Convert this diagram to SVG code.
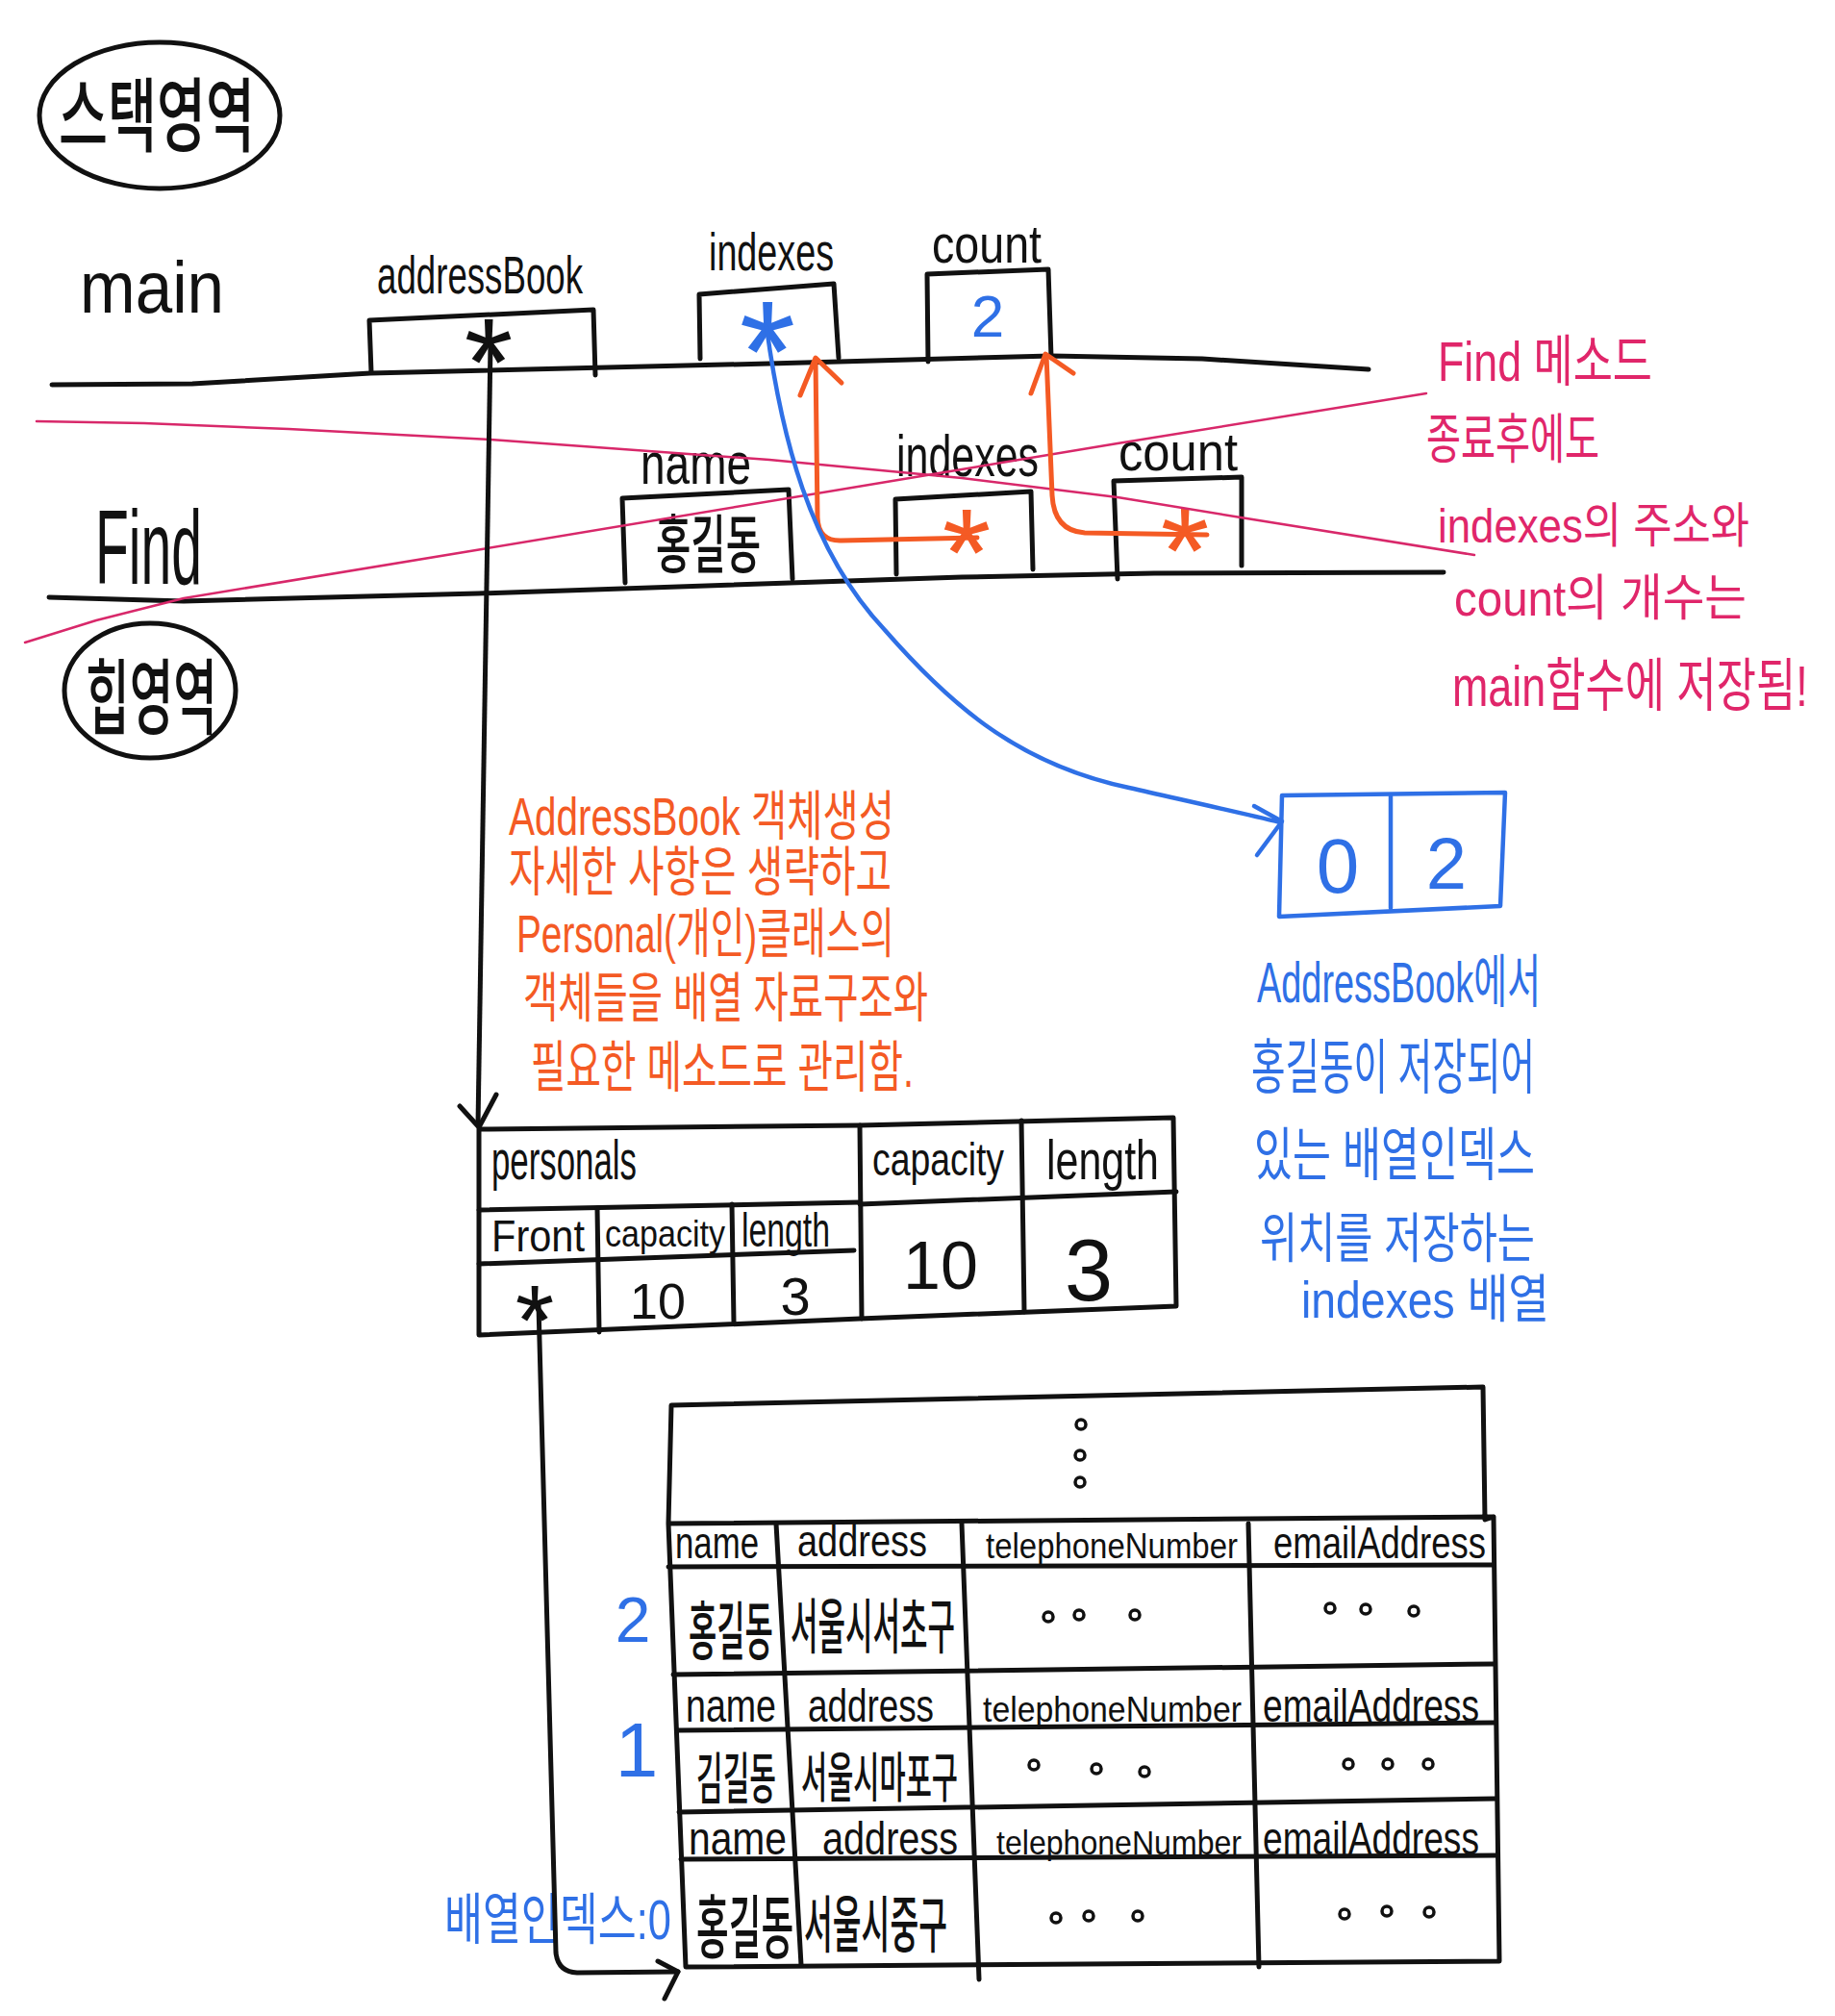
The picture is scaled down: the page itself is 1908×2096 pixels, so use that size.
<svg xmlns="http://www.w3.org/2000/svg" width="1908" height="2096" viewBox="0 0 1908 2096">
<defs>
<style>
.ln{fill:none;stroke:#111;stroke-width:5;stroke-linecap:round;stroke-linejoin:round}
.pk{fill:none;stroke:#d8286a;stroke-width:2.5;stroke-linecap:round;stroke-linejoin:round}
.or{fill:none;stroke:#f45a24;stroke-width:5;stroke-linecap:round;stroke-linejoin:round}
.bl{fill:none;stroke:#2f70e6;stroke-width:4.5;stroke-linecap:round;stroke-linejoin:round}
.dot{fill:none;stroke:#111;stroke-width:3.5}
text{font-family:"Liberation Sans","Noto Sans CJK KR",sans-serif;fill:#111}
.k{font-family:"Noto Sans CJK KR",sans-serif;font-weight:500}
.tp{fill:#e0266a}
.to{fill:#f45a24}
.tb{fill:#2f70e6}
</style>
</defs>
<rect width="1908" height="2096" fill="#fff"/>

<g id="stack-label">
<ellipse cx="166" cy="120" rx="125" ry="76" class="ln" stroke-width="6"/>
<text class="k" x="61" y="151" font-size="84" textLength="204" lengthAdjust="spacingAndGlyphs">스택영역</text>
</g>

<g id="heap-label">
<ellipse cx="156" cy="718" rx="89" ry="70" class="ln" stroke-width="6"/>
<text class="k" x="89" y="757" font-size="86" textLength="137" lengthAdjust="spacingAndGlyphs">힙영역</text>
</g>

<g id="main-frame">
<text x="83" y="325" font-size="76" textLength="150" lengthAdjust="spacingAndGlyphs">main</text>
<polyline class="ln" points="54,400 200,399 385,388 800,378 1093,370 1250,373 1423,384"/>
</g>

<g id="main-addressBook">
<text x="392" y="305" font-size="56" textLength="214" lengthAdjust="spacingAndGlyphs">addressBook</text>
<polyline class="ln" points="386,387 384,333 617,322 619,390"/>
<text x="508" y="422" font-size="130" text-anchor="middle">*</text>
</g>

<g id="main-indexes">
<text x="737" y="281" font-size="56" textLength="130" lengthAdjust="spacingAndGlyphs">indexes</text>
<polyline class="ln" points="728,373 727,306 867,295 872,372"/>
<text class="tb" x="798" y="418" font-size="150" text-anchor="middle">*</text>
</g>

<g id="main-count">
<text x="969" y="273" font-size="56" textLength="114" lengthAdjust="spacingAndGlyphs">count</text>
<polyline class="ln" points="965,376 964,285 1090,280 1093,372"/>
<text class="tb" x="1027" y="350" font-size="62" text-anchor="middle">2</text>
</g>

<g id="find-frame">
<text x="99" y="607" font-size="110" textLength="111" lengthAdjust="spacingAndGlyphs">Find</text>
<polyline class="ln" points="51,621 191,625 497,617 1000,600 1200,596 1501,595"/>
</g>

<g id="find-name">
<text x="666" y="503" font-size="62" textLength="115" lengthAdjust="spacingAndGlyphs">name</text>
<polyline class="ln" points="650,606 647,518 820,509 824,602"/>
<text class="k" x="682" y="590" font-size="66" textLength="109" lengthAdjust="spacingAndGlyphs">홍길동</text>
</g>

<g id="find-indexes">
<text x="932" y="495" font-size="62" textLength="148" lengthAdjust="spacingAndGlyphs">indexes</text>
<polyline class="ln" points="932,597 931,519 1072,511 1074,592"/>
<text class="to" x="1005" y="620" font-size="130" text-anchor="middle">*</text>
</g>

<g id="find-count">
<text x="1163" y="489" font-size="56" textLength="124" lengthAdjust="spacingAndGlyphs">count</text>
<polyline class="ln" points="1162,602 1158,500 1291,496 1291,588"/>
<text class="to" x="1232" y="618" font-size="130" text-anchor="middle">*</text>
</g>

<g id="note-find-ended">
<text class="tp" x="1495" y="396" font-size="58" textLength="223" lengthAdjust="spacingAndGlyphs">Find 메소드</text>
<text class="tp" x="1483" y="476" font-size="56" textLength="180" lengthAdjust="spacingAndGlyphs">종료후에도</text>
<text class="tp" x="1495" y="564" font-size="50" textLength="324" lengthAdjust="spacingAndGlyphs">indexes의 주소와</text>
<text class="tp" x="1512" y="640" font-size="52" textLength="304" lengthAdjust="spacingAndGlyphs">count의 개수는</text>
<text class="tp" transform="translate(1510,734) scale(0.707,1)" font-size="60" textLength="523" lengthAdjust="spacingAndGlyphs">main함수에 저장됨!</text>
</g>

<g id="indexes-array">
<polygon class="bl" points="1333,827 1565,824 1560,942 1330,953"/>
<line class="bl" x1="1446" y1="828" x2="1446" y2="944"/>
<text class="tb" x="1391" y="928" font-size="80" text-anchor="middle">0</text>
<text class="tb" x="1504" y="924" font-size="76" text-anchor="middle">2</text>
</g>

<g id="note-indexes">
<text class="tb" x="1307" y="1042" font-size="60" textLength="295" lengthAdjust="spacingAndGlyphs">AddressBook에서</text>
<text class="tb" x="1301" y="1132" font-size="62" textLength="295" lengthAdjust="spacingAndGlyphs">홍길동이 저장되어</text>
<text class="tb" x="1304" y="1222" font-size="60" textLength="292" lengthAdjust="spacingAndGlyphs">있는 배열인덱스</text>
<text class="tb" x="1310" y="1307" font-size="56" textLength="286" lengthAdjust="spacingAndGlyphs">위치를 저장하는</text>
<text class="tb" x="1353" y="1370" font-size="54" textLength="258" lengthAdjust="spacingAndGlyphs">indexes 배열</text>
</g>

<g id="note-addressbook">
<text class="to" x="529" y="868" font-size="56" textLength="401" lengthAdjust="spacingAndGlyphs">AddressBook 객체생성</text>
<text class="to" x="529" y="926" font-size="56" textLength="398" lengthAdjust="spacingAndGlyphs">자세한 사항은 생략하고</text>
<text class="to" x="537" y="990" font-size="56" textLength="393" lengthAdjust="spacingAndGlyphs">Personal(개인)클래스의</text>
<text class="to" x="544" y="1057" font-size="56" textLength="421" lengthAdjust="spacingAndGlyphs">객체들을 배열 자료구조와</text>
<text class="to" x="552" y="1130" font-size="58" textLength="398" lengthAdjust="spacingAndGlyphs">필요한 메소드로 관리함.</text>
</g>

<g id="addressbook-object">
<polyline class="ln" points="498,1174 894,1170 1220,1162 1223,1358 894,1371 498,1388 498,1174"/>
<line class="ln" x1="894" y1="1170" x2="896" y2="1371"/>
<line class="ln" x1="1062" y1="1165" x2="1065" y2="1364"/>
<line class="ln" x1="894" y1="1252" x2="1223" y2="1239"/>
<line class="ln" x1="498" y1="1258" x2="894" y2="1250"/>
<line class="ln" x1="498" y1="1314" x2="888" y2="1300"/>
<line class="ln" x1="621" y1="1256" x2="623" y2="1385"/>
<line class="ln" x1="761" y1="1252" x2="763" y2="1375"/>
<text x="511" y="1226" font-size="58" textLength="151" lengthAdjust="spacingAndGlyphs">personals</text>
<text x="907" y="1222" font-size="48" textLength="137" lengthAdjust="spacingAndGlyphs">capacity</text>
<text x="1088" y="1226" font-size="58" textLength="117" lengthAdjust="spacingAndGlyphs">length</text>
<text x="511" y="1301" font-size="46" textLength="97" lengthAdjust="spacingAndGlyphs">Front</text>
<text x="629" y="1296" font-size="38" textLength="125" lengthAdjust="spacingAndGlyphs">capacity</text>
<text x="771" y="1296" font-size="50" textLength="92" lengthAdjust="spacingAndGlyphs">length</text>
<text x="556" y="1409" font-size="104" text-anchor="middle">*</text>
<text x="684" y="1371" font-size="52" text-anchor="middle">10</text>
<text x="827" y="1367" font-size="56" text-anchor="middle">3</text>
<text x="978" y="1340" font-size="70" text-anchor="middle">10</text>
<text x="1132" y="1352" font-size="90" text-anchor="middle">3</text>
</g>

<g id="personal-array">
<polyline class="ln" points="1553,1577 1544,1580 1542,1442 698,1461 695,1584 713,2045 1559,2039 1553,1577 695,1584"/>
<line class="ln" x1="695" y1="1629" x2="1553" y2="1627"/>
<line class="ln" x1="700" y1="1741" x2="1553" y2="1730"/>
<line class="ln" x1="705" y1="1799" x2="1555" y2="1791"/>
<line class="ln" x1="706" y1="1884" x2="1556" y2="1870"/>
<line class="ln" x1="708" y1="1933" x2="1557" y2="1929"/>
<line class="ln" x1="807" y1="1584" x2="833" y2="2043"/>
<line class="ln" x1="1000" y1="1584" x2="1018" y2="2058"/>
<line class="ln" x1="1298" y1="1584" x2="1309" y2="2045"/>
<circle class="dot" cx="1124" cy="1481" r="5"/>
<circle class="dot" cx="1123" cy="1513" r="5"/>
<circle class="dot" cx="1123" cy="1541" r="5"/>
<text x="702" y="1620" font-size="46" textLength="87" lengthAdjust="spacingAndGlyphs">name</text>
<text x="829" y="1618" font-size="46" textLength="135" lengthAdjust="spacingAndGlyphs">address</text>
<text x="1025" y="1620" font-size="36" textLength="262" lengthAdjust="spacingAndGlyphs">telephoneNumber</text>
<text x="1324" y="1620" font-size="46" textLength="221" lengthAdjust="spacingAndGlyphs">emailAddress</text>
<text class="k" transform="translate(716,1720) scale(0.444,1)" font-size="66" textLength="198" lengthAdjust="spacingAndGlyphs">홍길동</text>
<text class="k" x="822" y="1714" font-size="62" textLength="171" lengthAdjust="spacingAndGlyphs">서울시서초구</text>
<circle class="dot" cx="1090" cy="1681" r="5"/><circle class="dot" cx="1122" cy="1679" r="5"/><circle class="dot" cx="1180" cy="1679" r="5"/>
<circle class="dot" cx="1383" cy="1672" r="5"/><circle class="dot" cx="1420" cy="1673" r="5"/><circle class="dot" cx="1470" cy="1675" r="5"/>
<text x="713" y="1790" font-size="48" textLength="94" lengthAdjust="spacingAndGlyphs">name</text>
<text x="840" y="1790" font-size="48" textLength="131" lengthAdjust="spacingAndGlyphs">address</text>
<text x="1022" y="1790" font-size="36" textLength="269" lengthAdjust="spacingAndGlyphs">telephoneNumber</text>
<text x="1313" y="1790" font-size="48" textLength="225" lengthAdjust="spacingAndGlyphs">emailAddress</text>
<text class="k" transform="translate(724,1870) scale(0.477,1)" font-size="58" textLength="174" lengthAdjust="spacingAndGlyphs">김길동</text>
<text class="k" x="833" y="1868" font-size="56" textLength="163" lengthAdjust="spacingAndGlyphs">서울시마포구</text>
<circle class="dot" cx="1075" cy="1835" r="5"/><circle class="dot" cx="1140" cy="1839" r="5"/><circle class="dot" cx="1190" cy="1842" r="5"/>
<circle class="dot" cx="1402" cy="1834" r="5"/><circle class="dot" cx="1443" cy="1834" r="5"/><circle class="dot" cx="1485" cy="1834" r="5"/>
<text x="716" y="1928" font-size="48" textLength="102" lengthAdjust="spacingAndGlyphs">name</text>
<text x="855" y="1928" font-size="48" textLength="141" lengthAdjust="spacingAndGlyphs">address</text>
<text x="1036" y="1928" font-size="35" textLength="255" lengthAdjust="spacingAndGlyphs">telephoneNumber</text>
<text x="1313" y="1928" font-size="48" textLength="225" lengthAdjust="spacingAndGlyphs">emailAddress</text>
<text class="k" transform="translate(724,2030) scale(0.468,1)" font-size="72" textLength="216" lengthAdjust="spacingAndGlyphs">홍길동</text>
<text class="k" x="836" y="2024" font-size="64" textLength="149" lengthAdjust="spacingAndGlyphs">서울시중구</text>
<circle class="dot" cx="1098" cy="1994" r="5"/><circle class="dot" cx="1132" cy="1992" r="5"/><circle class="dot" cx="1183" cy="1992" r="5"/>
<circle class="dot" cx="1398" cy="1990" r="5"/><circle class="dot" cx="1442" cy="1987" r="5"/><circle class="dot" cx="1486" cy="1988" r="5"/>
<text class="tb" x="658" y="1707" font-size="66" text-anchor="middle">2</text>
<text class="tb" x="662" y="1847" font-size="80" text-anchor="middle">1</text>
<text class="tb" transform="translate(462,2016) scale(0.7,1)" font-size="58" textLength="337" lengthAdjust="spacingAndGlyphs">배열인덱스:0</text>
</g>

<g id="connectors">
<path class="pk" d="M38,438 L150,440 L300,446 L510,457 L800,478 L1000,497 L1162,517 L1290,538 L1533,577"/>
<path class="pk" d="M26,668 L100,645 L191,622 L501,571 L1000,488 L1162,461 L1483,409"/>
<path class="ln" d="M510,358 L497,1170"/>
<polyline class="ln" points="478,1150 498,1172 516,1138"/>
<path class="ln" d="M560,1357 L578,2030 Q580,2050 600,2051 L705,2050"/>
<polyline class="ln" points="684,2039 705,2050 691,2078"/>
<path class="or" d="M1016,559 L875,562 Q851,563 850,538 L848,374"/>
<polyline class="or" points="832,411 848,372 875,398"/>
<path class="or" d="M1255,556 L1128,554 Q1096,552 1094,515 L1088,369"/>
<polyline class="or" points="1072,409 1087,368 1116,388"/>
<path class="bl" d="M797,340 C812,450 840,570 920,655 C990,735 1060,795 1174,819 C1240,834 1290,845 1331,855"/>
<polyline class="bl" points="1304,838 1333,854 1307,889"/>
</g>
</svg>
